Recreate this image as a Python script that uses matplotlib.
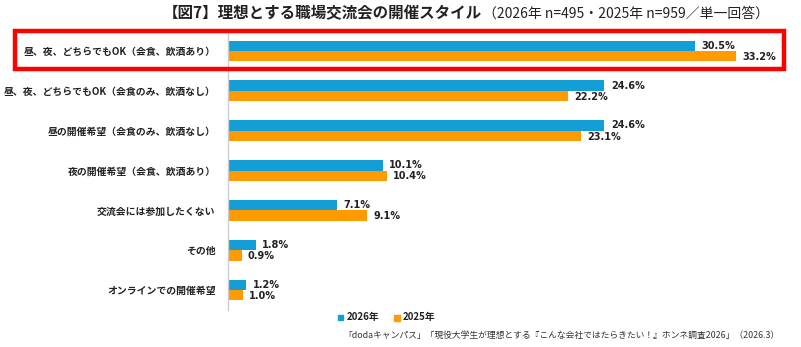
import matplotlib.pyplot as plt
from matplotlib.patches import Rectangle
import numpy as np

plt.rcParams['font.family'] = ['Noto Sans CJK JP', 'DejaVu Sans']

categories = [
    "昼、夜、どちらでもOK（会食、飲酒あり）",
    "昼、夜、どちらでもOK（会食のみ、飲酒なし）",
    "昼の開催希望（会食のみ、飲酒なし）",
    "夜の開催希望（会食、飲酒あり）",
    "交流会には参加したくない",
    "その他",
    "オンラインでの開催希望",
]
values_2026 = [30.5, 24.6, 24.6, 10.1, 7.1, 1.8, 1.2]
values_2025 = [33.2, 22.2, 23.1, 10.4, 9.1, 0.9, 1.0]

blue = "#139FD6"
orange = "#FF9A00"

W, H = 801, 347
fig = plt.figure(figsize=(W / 100, H / 100), dpi=100)

# axes: x from 228px to 785px, y from 31px to 310px
ax = fig.add_axes([228 / W, 1 - 310 / H, (785 - 228) / W, 279 / H])

y = np.arange(len(categories))
bh = 0.26
ax.barh(y - bh / 2, values_2026, height=bh, color=blue, label="2026年")
ax.barh(y + bh / 2, values_2025, height=bh, color=orange, label="2025年")

for yi, v in zip(y, values_2026):
    ax.text(v + 0.45, yi - bh / 2, f"{v:.1f}%", va="center", ha="left",
            fontsize=7, fontweight="bold", color="#222222", family="DejaVu Sans")
for yi, v in zip(y, values_2025):
    ax.text(v + 0.4, yi + bh / 2 + 0.02, f"{v:.1f}%", va="center", ha="left",
            fontsize=7, fontweight="bold", color="#222222", family="DejaVu Sans")

ax.set_xlim(0, 557 / 15.3)
ax.set_ylim(len(categories) - 0.5, -0.5)
ax.set_yticks(y)
ax.set_yticklabels(categories, fontsize=7.1, fontweight="bold", color="#222222")
ax.tick_params(axis="y", length=0, pad=9)
ax.set_xticks([])
for s in ["top", "right", "bottom"]:
    ax.spines[s].set_visible(False)
ax.spines["left"].set_color("#cccccc")
ax.spines["left"].set_linewidth(1)

# red highlight box
fig.patches.append(Rectangle((15 / W, 1 - 69 / H), (784 - 15) / W, 38 / H,
                             transform=fig.transFigure, fill=False,
                             edgecolor="#FF0000", linewidth=3.2))

# title
fig.text(482 / W, 1 - 13 / H, "【図7】理想とする職場交流会の開催スタイル",
         ha="right", va="center", fontsize=11.2, fontweight="bold", color="#222222")
fig.text(483 / W, 1 - 14 / H, "（2026年 n=495・2025年 n=959／単一回答）",
         ha="left", va="center", fontsize=10, color="#222222")

# legend
fig.patches.append(Rectangle((338 / W, 1 - 320 / H), 5 / W, 5 / H,
                             transform=fig.transFigure, color=blue))
fig.text(347 / W, 1 - 317 / H, "2026年", ha="left", va="center",
         fontsize=7, fontweight="bold", color="#222222")
fig.patches.append(Rectangle((394 / W, 1 - 321 / H), 6 / W, 6 / H,
                             transform=fig.transFigure, color=orange))
fig.text(403 / W, 1 - 317 / H, "2025年", ha="left", va="center",
         fontsize=7, fontweight="bold", color="#222222")

# source
fig.text(343 / W, 1 - 335 / H,
         "「dodaキャンパス」「現役大学生が理想とする『こんな会社ではたらきたい！』ホンネ調査2026」（2026.3）",
         ha="left", va="center", fontsize=6.35, color="#333333")

fig.savefig("out.png", dpi=100)
plt.close()
